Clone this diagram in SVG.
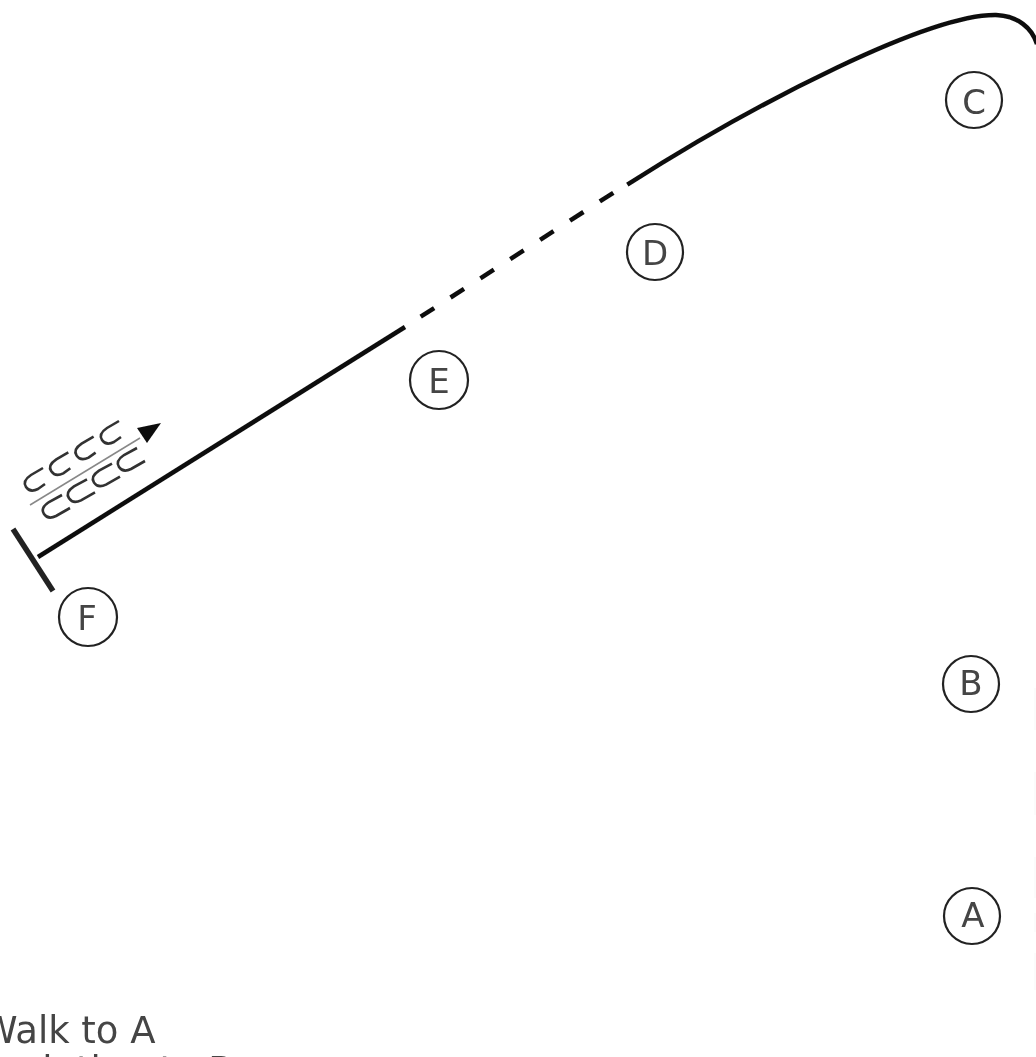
<svg xmlns="http://www.w3.org/2000/svg" width="1036" height="1057" viewBox="0 0 1036 1057">
<style>
.route{fill:none;stroke:#111;stroke-width:4.500}
.ring{fill:#fff;stroke:#222;stroke-width:2.200}
.lab{font-family:"DejaVu Sans",sans-serif;font-size:34px;fill:#444;text-anchor:middle}
.txt{font-family:"DejaVu Sans",sans-serif;font-size:37px;fill:#444}
.cc{fill:none;stroke:#333;stroke-width:2.600}
</style>
<defs>
<filter id="soft" x="0" y="0" width="100%" height="100%" filterUnits="userSpaceOnUse"><feGaussianBlur stdDeviation="0.700"/></filter>
<path id="car" class="cc" d="M43 468L31 475Q22 481 26 487Q30 493 38 489L45 484"/>
<path id="carb" class="cc" d="M62 495L49 502Q40 508 44 514Q48 520 56 516L70 508"/>
</defs>
<rect width="1036" height="1057" fill="#fff"/>
<g filter="url(#soft)">
<g id="connectors">
<path class="route" d="M38 557L405 327"/>
<path class="route" d="M420.700 316.700L615 191.700" stroke-dasharray="16 19.500"/>
<path class="route" d="M627.300 184.700C760 100 930 14 996 15C1018 16 1032 28 1037 44"/>
<path d="M13 529L53 591" fill="none" stroke="#222" stroke-width="5.500"/>
<path d="M30 505L140 438" fill="none" stroke="#888" stroke-width="1.500"/>
<path d="M161 423L137 428L147 443Z" fill="#111"/>
<path d="M1035 688V730M1035 772V815M1035 857V898M1035 913V932M1035 953V990" fill="none" stroke="#f7f7f7" stroke-width="1"/>
</g>
<g id="cars">
<use href="#car"/>
<use href="#car" x="25.300" y="-15.700"/>
<use href="#car" x="50.600" y="-31.400"/>
<use href="#car" x="76" y="-47"/>
<use href="#carb"/>
<use href="#carb" x="25" y="-15.700"/>
<use href="#carb" x="50" y="-31.400"/>
<use href="#carb" x="75" y="-47"/>
</g>
<g id="node-a"><circle class="ring" cx="972" cy="916" r="28"/><text class="lab" x="973" y="927">A</text></g>
<g id="node-b"><circle class="ring" cx="971" cy="684" r="28"/><text class="lab" x="971" y="695">B</text></g>
<g id="node-c"><circle class="ring" cx="974" cy="100" r="28"/><text class="lab" x="974" y="114">C</text></g>
<g id="node-d"><circle class="ring" cx="655" cy="252" r="28"/><text class="lab" x="655" y="265">D</text></g>
<g id="node-e"><circle class="ring" cx="439" cy="380" r="29"/><text class="lab" x="439" y="393">E</text></g>
<g id="node-f"><circle class="ring" cx="88" cy="617" r="29"/><text class="lab" x="87" y="630">F</text></g>
<g id="labels">
<text class="txt" x="-19" y="1043">Walk to A</text>
<text class="txt" x="-20" y="1083">Sprinting to B</text>
</g>
</g>
</svg>
